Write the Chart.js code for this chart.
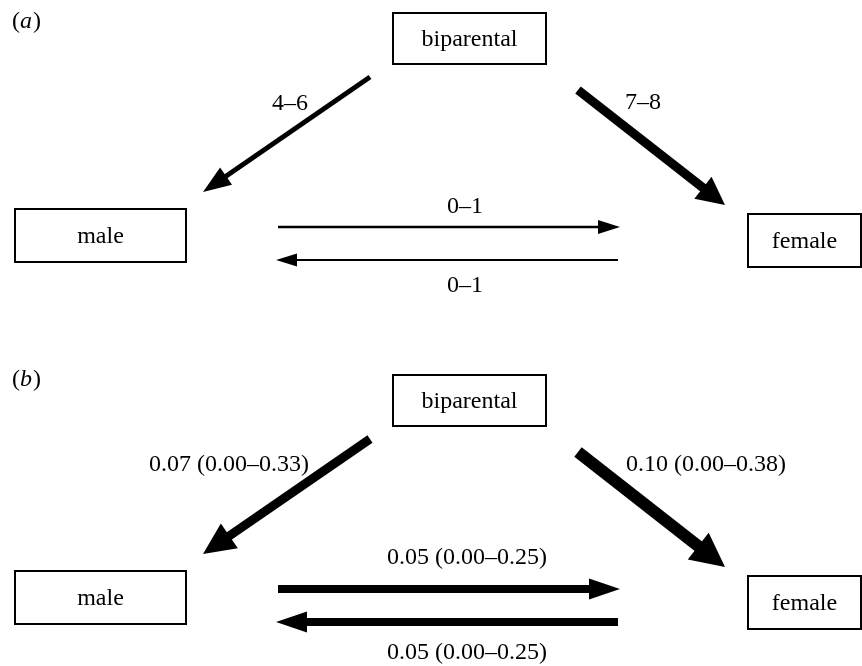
<!DOCTYPE html>
<html>
<head>
<meta charset="utf-8">
<script src="https://cdn.jsdelivr.net/npm/chart.js@4/dist/chart.umd.min.js"></script>
<style>
  html, body { margin: 0; padding: 0; background: #fff; }
  #wrap { width: 862px; height: 666px; }
</style>
</head>
<body>
<div id="wrap"><canvas id="c" width="862" height="666"></canvas></div>
<script>
// ---- data ----
const panelLabels = ['a', 'b'];
const nodeNames = ['biparental', 'male', 'female'];
const edgeFrom = ['biparental', 'biparental', 'male', 'female'];
const edgeTo   = ['male', 'female', 'female', 'male'];
// panel (a): number of transitions
const transLow  = [4, 7, 0, 0];
const transHigh = [6, 8, 1, 1];
// panel (b): rates, with intervals
const rateMean = [0.07, 0.10, 0.05, 0.05];
const rateLow  = [0.00, 0.00, 0.00, 0.00];
const rateHigh = [0.33, 0.38, 0.25, 0.25];

// ---- layout (pixel-space units on hidden linear axes) ----
const panelOffset = [0, 362];
const boxes = {
  biparental: { x1: 393, x2: 546, y1: 13, y2: 64 },
  male:       { x1: 15,  x2: 186, y1: 209, y2: 262 },
  female:     { x1: 748, x2: 861, y1: 214, y2: 267 }
};
const arrowGeom = [
  [[370, 77], [203, 192]],
  [[578, 90], [725, 205]],
  [[278, 227], [620, 227]],
  [[618, 260], [276, 260]]
];
const arrowStyle = [
  // panel a
  [ {lw: 5, hl: 28, hw: 21}, {lw: 9, hl: 28, hw: 28}, {lw: 2.5, hl: 22, hw: 14}, {lw: 2, hl: 21, hw: 13} ],
  // panel b
  [ {lw: 9, hl: 32, hw: 30}, {lw: 12, hl: 34, hw: 34}, {lw: 8, hl: 31, hw: 21}, {lw: 8, hl: 31, hw: 21} ]
];
const labelPos = [
  [[290, 104], [643, 103], [465, 207], [465, 286]],
  [[229, 465], [706, 465], [467, 558], [467, 653]]
];
const panelTagPos = [[12, 22], [12, 380]];
const FONT = '"Liberation Serif", "DejaVu Serif", serif';
const FS = 24;

function dash(a, b) { return a + '\u2013' + b; }
function fmt(v) { return v.toFixed(2); }
const labelsA = transLow.map((l, i) => dash(l, transHigh[i]));
const labelsB = rateMean.map((m, i) => fmt(m) + ' (' + dash(fmt(rateLow[i]), fmt(rateHigh[i])) + ')');
const panelEdgeLabels = [labelsA, labelsB];

// node centres as an invisible dataset
const nodePoints = [];
panelOffset.forEach(off => nodeNames.forEach(n => {
  const b = boxes[n];
  nodePoints.push({ x: (b.x1 + b.x2) / 2, y: (b.y1 + b.y2) / 2 + off });
}));

const diagramPlugin = {
  id: 'diagram',
  afterDraw(chart) {
    const ctx = chart.ctx;
    const xs = chart.scales.x, ys = chart.scales.y;
    const X = v => xs.getPixelForValue(v);
    const Y = v => ys.getPixelForValue(v);
    ctx.save();
    ctx.fillStyle = '#000';
    ctx.strokeStyle = '#000';

    panelOffset.forEach((off, p) => {
      // panel tag "(a)" / "(b)"
      ctx.textBaseline = 'middle';
      ctx.textAlign = 'left';
      let tx = X(panelTagPos[p][0]);
      const ty = Y(panelTagPos[p][1]);
      ctx.font = FS + 'px ' + FONT;
      ctx.fillText('(', tx, ty);
      tx += ctx.measureText('(').width;
      ctx.font = 'italic ' + FS + 'px ' + FONT;
      ctx.fillText(panelLabels[p], tx, ty);
      tx += ctx.measureText(panelLabels[p]).width + 1;
      ctx.font = FS + 'px ' + FONT;
      ctx.fillText(')', tx, ty);

      // boxes
      nodeNames.forEach(n => {
        const b = boxes[n];
        const x1 = X(b.x1), x2 = X(b.x2), y1 = Y(b.y1 + off), y2 = Y(b.y2 + off);
        ctx.lineWidth = 2;
        ctx.strokeRect(x1, y1, x2 - x1, y2 - y1);
        ctx.font = FS + 'px ' + FONT;
        ctx.textAlign = 'center';
        ctx.textBaseline = 'middle';
        ctx.fillText(n, (x1 + x2) / 2, (y1 + y2) / 2 + 1);
      });

      // arrows
      arrowGeom.forEach((g, i) => {
        const st = arrowStyle[p][i];
        const sx = X(g[0][0]), sy = Y(g[0][1] + off);
        const ex = X(g[1][0]), ey = Y(g[1][1] + off);
        const ang = Math.atan2(ey - sy, ex - sx);
        const ux = Math.cos(ang), uy = Math.sin(ang);
        const bx = ex - ux * st.hl, by = ey - uy * st.hl;
        ctx.lineWidth = st.lw;
        ctx.lineCap = 'butt';
        ctx.beginPath();
        ctx.moveTo(sx, sy);
        ctx.lineTo(bx + ux * st.hl * 0.4, by + uy * st.hl * 0.4);
        ctx.stroke();
        const nx = -uy, ny = ux;
        ctx.beginPath();
        ctx.moveTo(ex, ey);
        ctx.lineTo(bx + nx * st.hw / 2, by + ny * st.hw / 2);
        ctx.lineTo(bx - nx * st.hw / 2, by - ny * st.hw / 2);
        ctx.closePath();
        ctx.fill();
      });

      // edge labels
      ctx.font = FS + 'px ' + FONT;
      ctx.textAlign = 'center';
      ctx.textBaseline = 'middle';
      panelEdgeLabels[p].forEach((t, i) => {
        ctx.fillText(t, X(labelPos[p][i][0]), Y(labelPos[p][i][1]));
      });
    });
    ctx.restore();
  }
};

new Chart(document.getElementById('c'), {
  type: 'scatter',
  data: {
    datasets: [{
      label: 'nodes',
      data: nodePoints,
      pointRadius: 0,
      pointHoverRadius: 0
    }]
  },
  options: {
    responsive: false,
    animation: false,
    events: [],
    layout: { padding: 0 },
    plugins: { legend: { display: false }, tooltip: { enabled: false } },
    scales: {
      x: { type: 'linear', min: 0, max: 862, display: false },
      y: { type: 'linear', min: 0, max: 666, reverse: true, display: false }
    }
  },
  plugins: [diagramPlugin]
});
</script>
</body>
</html>
